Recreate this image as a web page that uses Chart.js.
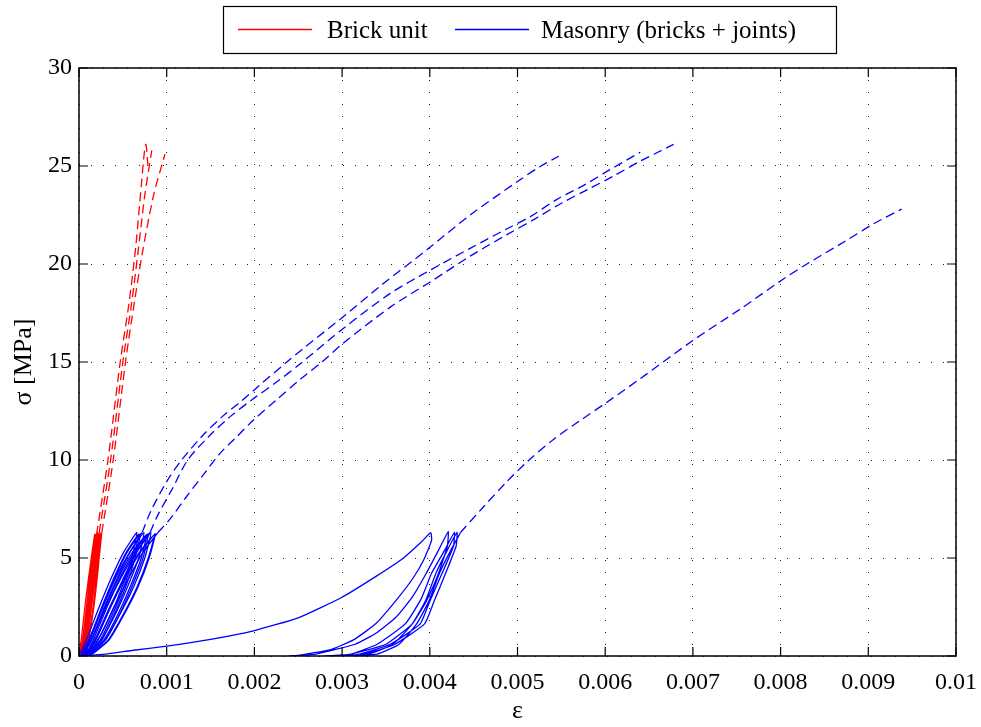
<!DOCTYPE html>
<html>
<head>
<meta charset="utf-8">
<script src="https://cdn.jsdelivr.net/npm/chart.js@4.4.1/dist/chart.umd.min.js"></script>
<style>
  html, body { margin: 0; padding: 0; background: #fff; }
  #wrap { width: 981px; height: 727px; }
</style>
</head>
<body>
<div id="wrap"><canvas id="chart" width="981" height="727"></canvas></div>
<script>
const FONT = '"Liberation Serif", "Times New Roman", serif';
const RED = '#ff0000';
const BLUE = '#0000ff';

// Axis ticks
const strainTicks = [0, 0.001, 0.002, 0.003, 0.004, 0.005, 0.006, 0.007, 0.008, 0.009, 0.01];
const strainTickLabels = ['0', '0.001', '0.002', '0.003', '0.004', '0.005', '0.006', '0.007', '0.008', '0.009', '0.01'];
const stressTicks = [0, 5, 10, 15, 20, 25, 30];
const stressTickLabels = ['0', '5', '10', '15', '20', '25', '30'];

const legendLabels = ['Brick unit', 'Masonry (bricks + joints)'];
const legendColors = [RED, BLUE];

// Brick units: cyclic part [strain, stress MPa], then monotonic part to failure
const brickA_cyclic = [[0, 0], [0.00003, 1], [0.00008, 3], [0.00014, 5], [0.00018, 6.2], [0.00015, 4.5], [0.0001, 2.5], [0.00005, 0.8], [0.00002, 0],
  [0.00006, 1.5], [0.00011, 3.5], [0.00016, 5.2], [0.00019, 6.2], [0.00016, 4.5], [0.00011, 2.5], [0.00006, 0.8], [0.00003, 0],
  [0.00008, 1.5], [0.00013, 3.5], [0.00017, 5.0], [0.0002, 6.2]];
const brickA_mono = [[0.0002, 6.2], [0.00033, 10], [0.00047, 15], [0.00057, 18], [0.00065, 21], [0.00071, 24], [0.00076, 26.1], [0.00079, 24.8]];

const brickB_cyclic = [[0, 0], [0.00005, 1], [0.00011, 3], [0.00017, 5], [0.00021, 6.3], [0.00018, 4.5], [0.00013, 2.5], [0.00008, 0.8], [0.00004, 0],
  [0.00009, 1.5], [0.00014, 3.5], [0.00019, 5.2], [0.00022, 6.2], [0.00019, 4.5], [0.00014, 2.5], [0.00009, 0.8], [0.00006, 0],
  [0.00011, 1.5], [0.00016, 3.5], [0.0002, 5.0], [0.00023, 6.3]];
const brickB_mono = [[0.00023, 6.3], [0.00036, 10], [0.0005, 15], [0.0006, 18], [0.00067, 20.5], [0.00075, 23.5], [0.00083, 25.8]];

const brickC_cyclic = [[0, 0], [0.00006, 1], [0.00013, 3], [0.0002, 5], [0.00024, 6.3], [0.00021, 4.5], [0.00016, 2.5], [0.0001, 0.8], [0.00006, 0],
  [0.00011, 1.5], [0.00017, 3.5], [0.00022, 5.2], [0.00025, 6.2], [0.00022, 4.5], [0.00017, 2.5], [0.00011, 0.8], [0.00007, 0],
  [0.00013, 1.5], [0.00019, 3.5], [0.00023, 5.0], [0.00026, 6.3]];
const brickC_mono = [[0.00026, 6.3], [0.00039, 10], [0.00053, 15], [0.00063, 18], [0.00072, 20.5], [0.00085, 23.5], [0.00098, 25.6]];

// Masonry wallets
const wallA_cyclic = [[0, 0], [0.0001, 1], [0.00023, 2.5], [0.00037, 4], [0.00051, 5.3], [0.00066, 6.3], [0.0006, 5], [0.00049, 3.5], [0.00035, 2], [0.00021, 0.8], [0.00003, 0],
  [0.00013, 1], [0.00026, 2.5], [0.0004, 4], [0.00054, 5.3], [0.00068, 6.2], [0.00062, 5], [0.00051, 3.5], [0.00037, 2], [0.00024, 0.8], [0.00005, 0],
  [0.00014, 1], [0.00027, 2.5], [0.00041, 4], [0.00055, 5.3], [0.0007, 6.25], [0.00064, 5], [0.00053, 3.5], [0.00039, 2], [0.00026, 0.8], [0.00006, 0],
  [0.00016, 1], [0.00029, 2.5], [0.00044, 4], [0.00058, 5.3], [0.00072, 6.3]];
const wallA_mono = [[0.00072, 6.3], [0.00082, 7.4], [0.001, 8.9], [0.00117, 10], [0.0014, 11.2], [0.00163, 12.2], [0.00185, 13.0], [0.00203, 13.7],
  [0.00237, 15.0], [0.00256, 15.7], [0.00301, 17.3], [0.00347, 19.0], [0.00396, 20.7], [0.00446, 22.5], [0.00503, 24.3], [0.00525, 24.95], [0.00547, 25.5]];

const wallB_cyclic = [[0.00002, 0], [0.00013, 1], [0.00027, 2.5], [0.00042, 4], [0.00058, 5.3], [0.00074, 6.3], [0.00068, 5], [0.00055, 3.5], [0.0004, 2], [0.00025, 0.8], [0.00005, 0],
  [0.00016, 1], [0.0003, 2.5], [0.00045, 4], [0.00061, 5.3], [0.00077, 6.2], [0.00071, 5], [0.00058, 3.5], [0.00043, 2], [0.00028, 0.8], [0.00008, 0],
  [0.00018, 1], [0.00032, 2.5], [0.00047, 4], [0.00063, 5.3], [0.00079, 6.25], [0.00073, 5], [0.0006, 3.5], [0.00045, 2], [0.0003, 0.8], [0.0001, 0],
  [0.00021, 1], [0.00036, 2.5], [0.00051, 4], [0.00066, 5.3], [0.00081, 6.3]];
const wallB_mono = [[0.00081, 6.3], [0.0009, 7.2], [0.00106, 8.5], [0.00124, 10], [0.00148, 11.2], [0.00172, 12.2], [0.00198, 13.1], [0.00226, 14.0],
  [0.00252, 14.9], [0.00301, 16.7], [0.00355, 18.5], [0.00401, 19.7], [0.00446, 20.8], [0.00488, 21.8], [0.00514, 22.4], [0.00545, 23.3],
  [0.00575, 24.0], [0.00605, 24.8], [0.0064, 25.7]];

const wallC_cyclic = [[0.00004, 0], [0.00016, 1], [0.00031, 2.5], [0.00048, 4], [0.00065, 5.3], [0.00082, 6.3], [0.00075, 5], [0.00062, 3.5], [0.00045, 2], [0.00029, 0.8], [0.00008, 0],
  [0.0002, 1], [0.00035, 2.5], [0.00052, 4], [0.00069, 5.3], [0.00086, 6.2], [0.00079, 5], [0.00066, 3.5], [0.00049, 2], [0.00033, 0.8], [0.0001, 0],
  [0.00021, 1], [0.00036, 2.5], [0.00053, 4], [0.0007, 5.3], [0.00087, 6.25], [0.0008, 5], [0.00067, 3.5], [0.0005, 2], [0.00034, 0.8], [0.00012, 0],
  [0.00024, 1], [0.0004, 2.5], [0.00057, 4], [0.00073, 5.3], [0.0009, 6.3]];
const wallC_mono = [[0.0009, 6.3], [0.00104, 7.0], [0.00122, 8.1], [0.00141, 9.2], [0.0016, 10.3], [0.00178, 11.1], [0.00198, 12.0], [0.00226, 13.1],
  [0.00252, 14.1], [0.00277, 15.0], [0.00301, 15.95], [0.00355, 17.8], [0.00401, 19.1], [0.00446, 20.4], [0.00488, 21.5], [0.0052, 22.3],
  [0.0055, 23.1], [0.0058, 23.8], [0.0061, 24.5], [0.0064, 25.25], [0.0066, 25.7], [0.00678, 26.1]];

// wallet with large permanent set after the first cycle
const wallD_cyclic = [[0, 0], [0.0003, 0.1], [0.0006, 0.28], [0.001, 0.5], [0.0015, 0.85], [0.002, 1.3], [0.0025, 1.95], [0.003, 3.0], [0.0034, 4.1], [0.0037, 5.0], [0.0039, 5.8], [0.00401, 6.29],
  [0.00402, 5.9], [0.00393, 4.9], [0.00381, 3.98], [0.00362, 2.86], [0.00339, 1.67], [0.00313, 0.82], [0.00286, 0.31], [0.00252, 0.05], [0.0024, 0],
  [0.0027, 0.1], [0.00315, 0.6], [0.0034, 1.2], [0.00362, 2.0], [0.0038, 3.0], [0.00396, 4.22], [0.0041, 5.4], [0.00421, 6.34],
  [0.0042, 5.6], [0.0041, 4.22], [0.00396, 2.8], [0.0038, 1.64], [0.0035, 0.6], [0.0031, 0.1], [0.0028, 0],
  [0.0031, 0.1], [0.0034, 0.6], [0.00372, 1.64], [0.0039, 2.9], [0.00402, 4.22], [0.00417, 5.4], [0.00428, 6.3],
  [0.00427, 5.6], [0.00414, 4.22], [0.004, 2.8], [0.00389, 1.64], [0.00355, 0.6], [0.0032, 0.1], [0.003, 0],
  [0.0033, 0.1], [0.00358, 0.6], [0.0038, 1.64], [0.00395, 2.8], [0.00407, 4.22], [0.0042, 5.4], [0.00431, 6.3],
  [0.0043, 5.6], [0.00418, 4.22], [0.00405, 2.8], [0.00394, 1.64], [0.0036, 0.6], [0.00325, 0.1], [0.0031, 0],
  [0.0034, 0.1], [0.00365, 0.6], [0.00385, 1.64], [0.00399, 2.8], [0.00411, 4.22], [0.00424, 5.4], [0.00435, 6.3]];
const wallD_mono = [[0.00435, 6.3], [0.00461, 7.6], [0.00488, 8.9], [0.00512, 9.95], [0.00541, 11.05], [0.00571, 12.0], [0.00602, 12.95], [0.0064, 14.15],
  [0.007, 16.1], [0.00754, 17.7], [0.00802, 19.2], [0.0083, 20.0], [0.00875, 21.2], [0.00906, 22.05], [0.00938, 22.8]];

function curve(points, color, dashed) {
  return {
    data: points.map(p => ({x: p[0], y: p[1]})),
    showLine: true,
    borderColor: color,
    borderWidth: 1.3,
    borderDash: dashed ? [9, 5] : [],
    pointRadius: 0,
    tension: dashed ? 0.3 : 0.15,
    fill: false
  };
}

const datasets = [
  curve(wallD_cyclic, BLUE, false), curve(wallD_mono, BLUE, true),
  curve(wallA_cyclic, BLUE, false), curve(wallA_mono, BLUE, true),
  curve(wallB_cyclic, BLUE, false), curve(wallB_mono, BLUE, true),
  curve(wallC_cyclic, BLUE, false), curve(wallC_mono, BLUE, true),
  curve(brickA_cyclic, RED, false), curve(brickA_mono, RED, true),
  curve(brickB_cyclic, RED, false), curve(brickB_mono, RED, true),
  curve(brickC_cyclic, RED, false), curve(brickC_mono, RED, true)
];

// box round the plot with inward ticks on all four sides
const axesFrame = {
  id: 'axesFrame',
  afterDraw(chart) {
    const {ctx, chartArea: a, scales: {x, y}} = chart;
    ctx.save();
    ctx.strokeStyle = '#000';
    ctx.lineWidth = 1.5;
    ctx.strokeRect(a.left, a.top, a.right - a.left, a.bottom - a.top);
    ctx.lineWidth = 1.2;
    ctx.beginPath();
    strainTicks.forEach(v => {
      const px = x.getPixelForValue(v);
      ctx.moveTo(px, a.bottom); ctx.lineTo(px, a.bottom - 9);
      ctx.moveTo(px, a.top); ctx.lineTo(px, a.top + 9);
    });
    stressTicks.forEach(v => {
      const py = y.getPixelForValue(v);
      ctx.moveTo(a.left, py); ctx.lineTo(a.left + 9, py);
      ctx.moveTo(a.right, py); ctx.lineTo(a.right - 9, py);
    });
    ctx.stroke();
    ctx.restore();
  }
};

// framed legend above the plot
const legendFrame = {
  id: 'legendFrame',
  afterDraw(chart) {
    const ctx = chart.ctx;
    const lineStarts = [238, 455];
    const textStarts = [327, 541];
    ctx.save();
    ctx.strokeStyle = '#000';
    ctx.lineWidth = 1.2;
    ctx.strokeRect(223.5, 6.5, 613, 47);
    ctx.font = '25px ' + FONT;
    ctx.textBaseline = 'alphabetic';
    ctx.fillStyle = '#000';
    legendLabels.forEach((label, i) => {
      ctx.strokeStyle = legendColors[i];
      ctx.lineWidth = 1.3;
      ctx.beginPath();
      ctx.moveTo(lineStarts[i], 29.5);
      ctx.lineTo(lineStarts[i] + 74, 29.5);
      ctx.stroke();
      ctx.fillText(label, textStarts[i], 38);
    });
    ctx.restore();
  }
};

new Chart(document.getElementById('chart'), {
  type: 'scatter',
  data: { datasets },
  options: {
    responsive: false,
    animation: false,
    devicePixelRatio: 1,
    layout: { padding: { left: 0, right: 25, top: 68, bottom: 0 } },
    plugins: { legend: { display: false }, tooltip: { enabled: false } },
    scales: {
      x: {
        type: 'linear', min: 0, max: 0.01,
        afterFit: s => { s.height = 71; s.paddingLeft = 0; s.paddingRight = 0; },
        afterBuildTicks: s => { s.ticks = strainTicks.map(v => ({ value: v })); },
        ticks: {
          autoSkip: false, maxRotation: 0, padding: 12, color: '#000',
          font: { family: FONT, size: 24 },
          callback: (v, i) => strainTickLabels[i]
        },
        grid: { color: '#222', lineWidth: 1, drawTicks: false },
        border: { display: false, dash: [1, 11] },
        title: { display: true, text: 'ε', color: '#000', font: { family: FONT, size: 26 }, padding: { top: 0, bottom: 0 } }
      },
      y: {
        type: 'linear', min: 0, max: 30,
        afterFit: s => { s.width = 79; },
        afterBuildTicks: s => { s.ticks = stressTicks.map(v => ({ value: v })); },
        ticks: {
          autoSkip: false, padding: 7, color: '#000',
          font: { family: FONT, size: 24 },
          callback: (v, i) => stressTickLabels[i]
        },
        grid: { color: '#222', lineWidth: 1, drawTicks: false },
        border: { display: false, dash: [1, 11] },
        title: { display: true, text: 'σ [MPa]', color: '#000', font: { family: FONT, size: 26 }, padding: { top: 9, bottom: 0 } }
      }
    }
  },
  plugins: [axesFrame, legendFrame]
});
</script>
</body>
</html>
